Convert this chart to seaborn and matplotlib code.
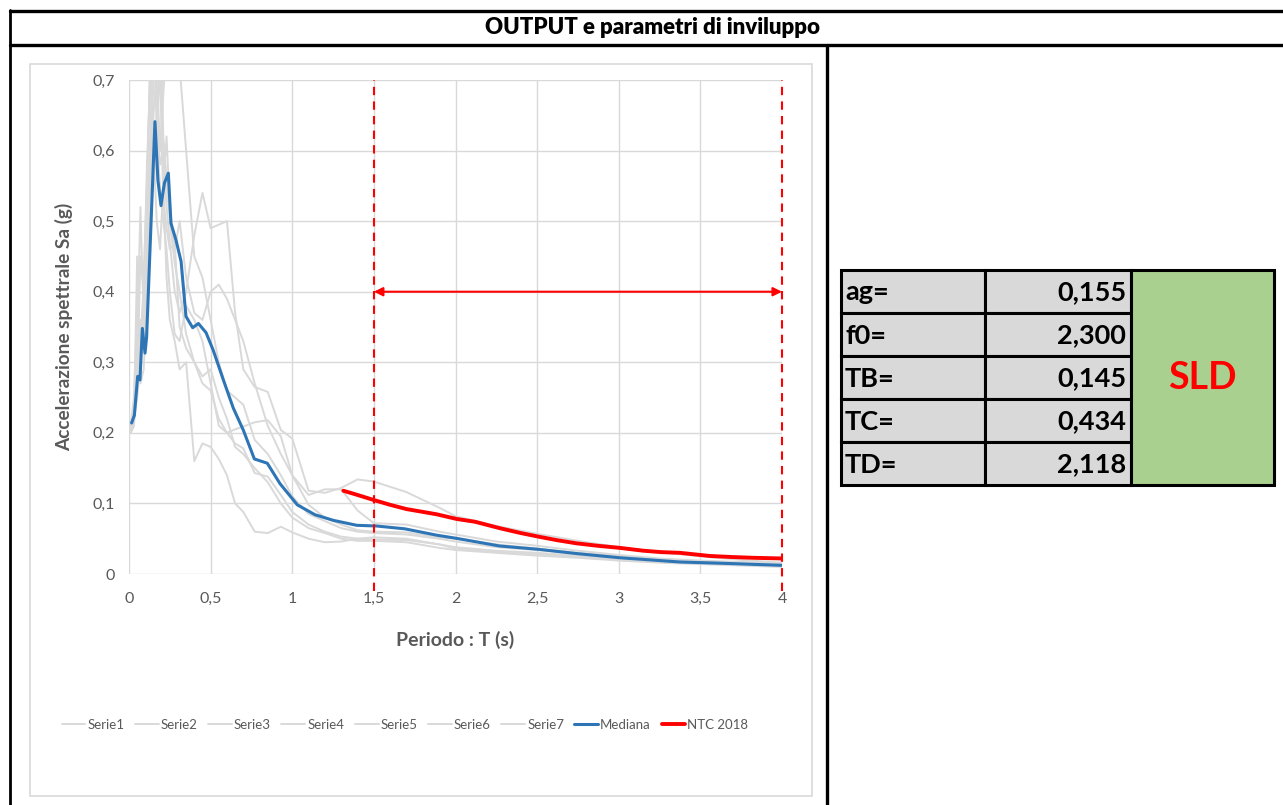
import numpy as np
import pandas as pd
import matplotlib
matplotlib.use("Agg")
import matplotlib.pyplot as plt
from matplotlib.patches import Rectangle
from matplotlib.lines import Line2D
import seaborn as sns

# ---------------- data ----------------
T_grid = [0.01, 0.03, 0.05, 0.07, 0.09, 0.11, 0.13, 0.15, 0.17, 0.19, 0.21, 0.23, 0.25,
          0.28, 0.31, 0.35, 0.40, 0.45, 0.50, 0.55, 0.60, 0.65, 0.70, 0.77, 0.85, 0.93,
          1.0, 1.1, 1.2, 1.3, 1.4, 1.5, 1.7, 1.9, 2.0, 2.25, 2.5, 2.75, 3.0, 3.25, 3.5, 3.75, 4.0]

serie1 = [0.20, 0.22, 0.30, 0.36, 0.33, 0.45, 0.62, 0.78, 0.66, 0.58, 0.60, 0.52, 0.47,
          0.40, 0.37, 0.40, 0.48, 0.54, 0.49, 0.495, 0.50, 0.37, 0.29, 0.265, 0.258, 0.204,
          0.192, 0.118, 0.115, 0.122, 0.134, 0.131, 0.116, 0.094, 0.082, 0.068, 0.057, 0.047,
          0.038, 0.031, 0.025, 0.020, 0.016]
serie2 = [0.21, 0.25, 0.38, 0.30, 0.42, 0.55, 0.72, 0.60, 0.50, 0.46, 0.55, 0.42, 0.36,
          0.33, 0.29, 0.30, 0.16, 0.185, 0.18, 0.163, 0.14, 0.10, 0.088, 0.06, 0.058, 0.067,
          0.059, 0.05, 0.045, 0.046, 0.05, 0.052, 0.05, 0.042, 0.038, 0.033, 0.030, 0.026,
          0.022, 0.019, 0.016, 0.014, 0.012]
serie3 = [0.20, 0.21, 0.27, 0.45, 0.40, 0.58, 0.70, 0.85, 0.62, 0.55, 0.50, 0.46, 0.40,
          0.34, 0.33, 0.38, 0.36, 0.33, 0.27, 0.21, 0.20, 0.205, 0.209, 0.215, 0.218, 0.195,
          0.14, 0.098, 0.08, 0.07, 0.062, 0.06, 0.059, 0.052, 0.05, 0.042, 0.036, 0.030,
          0.025, 0.021, 0.018, 0.016, 0.014]
serie4 = [0.21, 0.23, 0.33, 0.52, 0.36, 0.48, 0.58, 0.70, 0.80, 0.74, 0.55, 0.62, 0.52,
          0.46, 0.50, 0.42, 0.37, 0.36, 0.40, 0.41, 0.39, 0.36, 0.33, 0.27, 0.21, 0.17,
          0.14, 0.112, 0.12, 0.12, 0.09, 0.072, 0.07, 0.06, 0.056, 0.046, 0.040, 0.033,
          0.027, 0.022, 0.019, 0.017, 0.015]
serie5 = [0.20, 0.24, 0.28, 0.33, 0.40, 0.52, 0.74, 0.56, 0.65, 0.82, 0.62, 0.56, 0.50,
          0.44, 0.40, 0.34, 0.30, 0.27, 0.26, 0.22, 0.20, 0.185, 0.178, 0.143, 0.138, 0.112,
          0.088, 0.07, 0.06, 0.053, 0.05, 0.049, 0.048, 0.042, 0.036, 0.031, 0.028, 0.024,
          0.020, 0.017, 0.015, 0.013, 0.011]
serie6 = [0.21, 0.22, 0.25, 0.30, 0.35, 0.40, 0.55, 0.65, 0.72, 0.60, 0.68, 0.75, 0.85,
          0.80, 0.72, 0.60, 0.45, 0.42, 0.36, 0.30, 0.26, 0.25, 0.24, 0.19, 0.17, 0.14,
          0.11, 0.085, 0.075, 0.065, 0.06, 0.058, 0.056, 0.05, 0.046, 0.038, 0.034, 0.029,
          0.025, 0.021, 0.018, 0.016, 0.013]
serie7 = [0.20, 0.21, 0.45, 0.27, 0.29, 0.38, 0.50, 0.56, 0.62, 0.72, 0.53, 0.49, 0.46,
          0.47, 0.35, 0.32, 0.30, 0.28, 0.29, 0.25, 0.22, 0.18, 0.17, 0.15, 0.13, 0.10,
          0.08, 0.065, 0.058, 0.05, 0.047, 0.047, 0.045, 0.037, 0.034, 0.030, 0.026, 0.023,
          0.019, 0.016, 0.014, 0.012, 0.010]
grey_series = {"Serie1": serie1, "Serie2": serie2, "Serie3": serie3, "Serie4": serie4,
               "Serie5": serie5, "Serie6": serie6, "Serie7": serie7}

T_mediana = [0.016, 0.033, 0.053, 0.067, 0.082, 0.098, 0.108, 0.159, 0.177, 0.196, 0.217,
             0.241, 0.257, 0.288, 0.319, 0.349, 0.39, 0.425, 0.472, 0.516, 0.578, 0.639,
             0.70, 0.768, 0.847, 0.925, 1.031, 1.139, 1.252, 1.395, 1.517, 1.69, 1.885,
             2.007, 2.27, 2.507, 2.74, 3.008, 3.375, 3.66, 4.0]
Sa_mediana = [0.214, 0.225, 0.28, 0.275, 0.348, 0.313, 0.336, 0.641, 0.558, 0.522, 0.554,
              0.568, 0.497, 0.473, 0.443, 0.365, 0.349, 0.355, 0.342, 0.317, 0.275, 0.235,
              0.204, 0.163, 0.157, 0.128, 0.098, 0.084, 0.076, 0.069, 0.068, 0.064, 0.055,
              0.0505, 0.0397, 0.035, 0.029, 0.023, 0.017, 0.015, 0.0123]

T_ntc = [1.313, 1.40, 1.497, 1.60, 1.70, 1.80, 1.885, 2.007, 2.12, 2.27, 2.40, 2.507, 2.62,
         2.74, 2.87, 3.008, 3.15, 3.26, 3.375, 3.56, 3.70, 3.82, 4.0]
Sa_ntc = [0.118, 0.112, 0.105, 0.098, 0.092, 0.088, 0.0846, 0.078, 0.074, 0.065, 0.058,
          0.053, 0.048, 0.0435, 0.040, 0.037, 0.033, 0.031, 0.030, 0.0255, 0.024, 0.023, 0.022]

limit_T = [1.5, 4.0]
arrow_y = 0.40

x_ticks = [0, 0.5, 1, 1.5, 2, 2.5, 3, 3.5, 4]
x_ticklabels = ["0", "0,5", "1", "1,5", "2", "2,5", "3", "3,5", "4"]
y_ticks = [0, 0.1, 0.2, 0.3, 0.4, 0.5, 0.6, 0.7]
y_ticklabels = ["0", "0,1", "0,2", "0,3", "0,4", "0,5", "0,6", "0,7"]

param_names = ["ag=", "f0=", "TB=", "TC=", "TD="]
param_values = ["0,155", "2,300", "0,145", "0,434", "2,118"]
state_label = "SLD"

title_text = "OUTPUT e parametri di inviluppo"
xlabel_text = "Periodo : T (s)"
ylabel_text = "Accelerazione spettrale Sa (g)"

# ---------------- style ----------------
sns.set_theme(style="white")
plt.rcParams["font.family"] = ["Lato", "DejaVu Sans"]

W, H = 1283, 805
fig = plt.figure(figsize=(W / 100, H / 100), dpi=100)


def fx(px):
    return px / W


def fy(py):
    return 1 - py / H


TXT = "#595959"
GREY = "#d9d9d9"
BLUE = "#2e75b6"
RED = "#ff0000"

# chart-area border
fig.add_artist(Rectangle((fx(30), fy(796)), fx(812) - fx(30), fy(64) - fy(796),
                         transform=fig.transFigure, fill=False, edgecolor=GREY, lw=1.2))

ax = fig.add_axes([fx(129), fy(574), fx(782) - fx(129), fy(80) - fy(574)])

for name, vals in grey_series.items():
    df = pd.DataFrame({"T": T_grid, "Sa": vals})
    sns.lineplot(data=df, x="T", y="Sa", ax=ax, color=GREY, linewidth=1.4,
                 label=name, sort=False, estimator=None)

df_med = pd.DataFrame({"T": T_mediana, "Sa": Sa_mediana})
sns.lineplot(data=df_med, x="T", y="Sa", ax=ax, color=BLUE, linewidth=2.2,
             label="Mediana", sort=False, estimator=None)
df_ntc = pd.DataFrame({"T": T_ntc, "Sa": Sa_ntc})
sns.lineplot(data=df_ntc, x="T", y="Sa", ax=ax, color=RED, linewidth=2.8,
             label="NTC 2018", sort=False, estimator=None)

ax.set_xlim(0, 4)
ax.set_ylim(0, 0.7)

for t in limit_T:
    ax.plot([t, t], [-0.024, 0.7], color=RED, lw=1.5, ls=(0, (4, 3)), clip_on=False, zorder=5)

ax.annotate("", xy=(limit_T[1], arrow_y), xytext=(limit_T[0], arrow_y),
            arrowprops=dict(arrowstyle="<|-|>", color=RED, lw=1.5,
                            mutation_scale=13, shrinkA=0, shrinkB=0), zorder=6)

ax.set_xticks(x_ticks)
ax.set_xticklabels(x_ticklabels)
ax.set_yticks(y_ticks)
ax.set_yticklabels(y_ticklabels)
ax.tick_params(axis="both", length=0, labelsize=11.5, labelcolor=TXT)
ax.tick_params(axis="x", pad=13)
ax.tick_params(axis="y", pad=10)
ax.grid(True, color=GREY, lw=1)
for s in ax.spines.values():
    s.set_visible(False)

ax.set_xlabel(xlabel_text, fontsize=14, fontweight="bold", color=TXT)
ax.set_ylabel(ylabel_text, fontsize=13.7, fontweight="bold", color=TXT)
ax.xaxis.set_label_coords(0.5, (574 - 631) / 494)
ax.yaxis.set_label_coords((73 - 129) / 653, 0.5)

handles, labels = ax.get_legend_handles_labels()
ax.get_legend().remove()
fig.legend(handles, labels, loc="center", bbox_to_anchor=(fx(405), fy(725)),
           ncol=9, frameon=False, fontsize=9.5, labelcolor=TXT,
           handlelength=1.8, handletextpad=0.15, columnspacing=0.8)

# ---------------- frame & title ----------------
BLK = "black"
fig.add_artist(Line2D([fx(10), fx(1283)], [fy(11), fy(11)], transform=fig.transFigure, color=BLK, lw=2.4))
fig.add_artist(Line2D([fx(10), fx(1283)], [fy(45), fy(45)], transform=fig.transFigure, color=BLK, lw=2.4))
fig.add_artist(Line2D([fx(10), fx(10)], [fy(10), fy(805)], transform=fig.transFigure, color=BLK, lw=2.0))
fig.add_artist(Line2D([fx(827), fx(827)], [fy(45), fy(805)], transform=fig.transFigure, color=BLK, lw=2.4))
fig.text(fx(653), fy(28), title_text, ha="center", va="center", fontsize=16,
         fontweight="heavy", color="black")

# ---------------- parameter table ----------------
col_x = [841, 985, 1131, 1274]
row_y = [270, 313, 356, 399, 442, 485]
CELL = "#d9d9d9"
for i, (nm, val) in enumerate(zip(param_names, param_values)):
    y0, y1 = row_y[i], row_y[i + 1]
    for c in range(2):
        fig.add_artist(Rectangle((fx(col_x[c]), fy(y1)), fx(col_x[c + 1]) - fx(col_x[c]),
                                 fy(y0) - fy(y1), transform=fig.transFigure,
                                 facecolor=CELL, edgecolor=BLK, lw=2.2))
    ym = fy((y0 + y1) / 2 + 1)
    fig.text(fx(col_x[0] + 4), ym, nm, ha="left", va="center", fontsize=19.5,
             fontweight="bold", color="black")
    fig.text(fx(col_x[2] - 5), ym, val, ha="right", va="center", fontsize=19.5,
             fontweight="bold", color="black")
fig.add_artist(Rectangle((fx(col_x[2]), fy(row_y[-1])), fx(col_x[3]) - fx(col_x[2]),
                         fy(row_y[0]) - fy(row_y[-1]), transform=fig.transFigure,
                         facecolor="#a9d08e", edgecolor=BLK, lw=2.2))
fig.text(fx((col_x[2] + col_x[3]) / 2), fy(378), state_label, ha="center", va="center",
         fontsize=27, fontweight="bold", color=RED)

fig.savefig("out.png", dpi=100)
